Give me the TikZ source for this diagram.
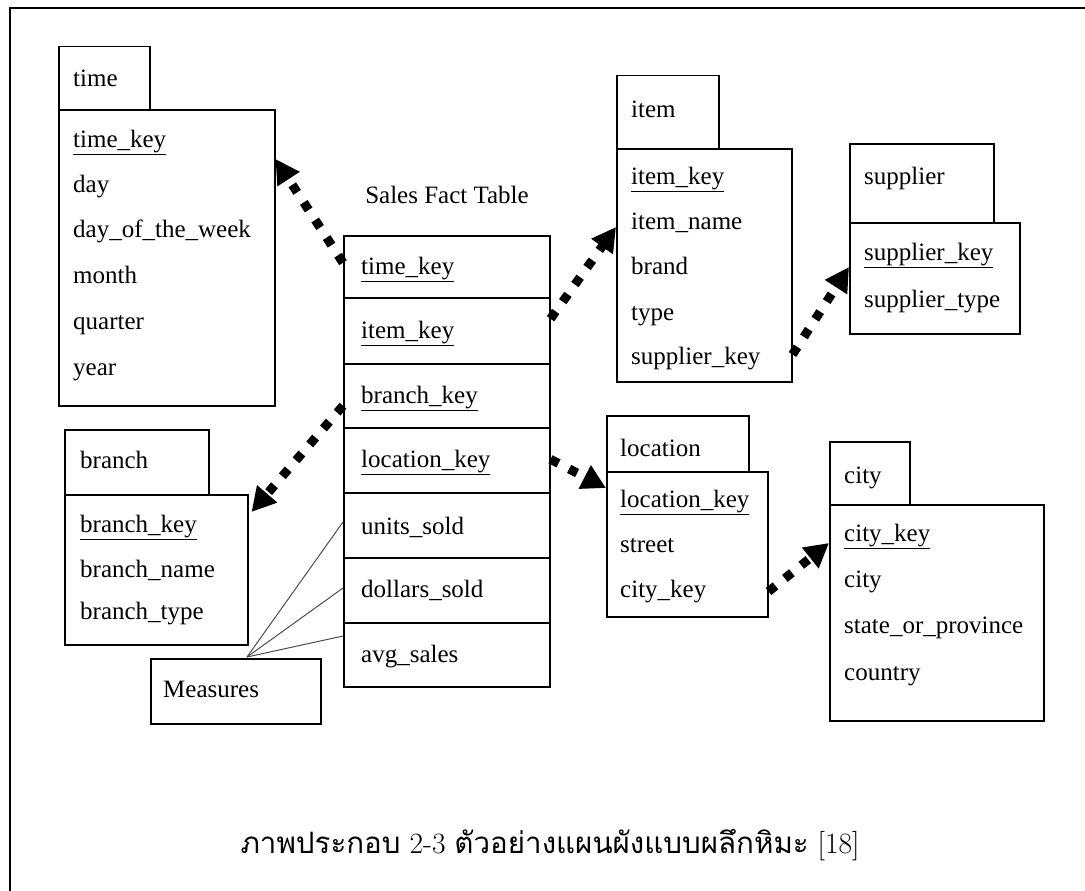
\documentclass[tikz,border=0pt]{standalone}
\usepackage{fontspec}
\newfontfamily\tfont{Liberation Serif}
\newfontfamily\thaifont[Script=Thai]{Loma}
\usetikzlibrary{arrows.meta,calc}

\tikzset{
  box/.style={draw, line width=1.5pt, inner sep=0pt, anchor=north west},
  lbl/.style={font=\tfont\fontsize{25}{25}\selectfont, anchor=west, inner sep=0pt,
              text height=17pt, text depth=6pt},
  fk/.style={line width=9pt, dash pattern=on 9pt off 12pt,
             -{Triangle[length=24pt,width=25pt]}},
  meas/.style={line width=1pt, draw=black!70},
}

\begin{document}
\begin{tikzpicture}[x=1pt,y=-1pt]
\useasboundingbox (0,0) rectangle (1085,891);
% frame
\draw[line width=2pt] (10,891) -- (10,8) -- (1085,8);

% ---- time dimension
\node[box, minimum width=91pt, minimum height=63pt] (timeh) at (58,46) {};
\node[box, minimum width=216pt, minimum height=296pt] (timeb) at (58,109) {};
\node[lbl] (t0) at (73,81) {time};
\node[lbl] (t1) at (73,142) {\underline{time\_key}};
\node[lbl] (t2) at (73,187) {day};
\node[lbl] (t3) at (73,232) {day\_of\_the\_week};
\node[lbl] (t4) at (73,278) {month};
\node[lbl] (t5) at (73,324) {quarter};
\node[lbl] (t6) at (73,370) {year};

% ---- fact table
\node[lbl, anchor=center] (facttitle) at (447,198) {Sales Fact Table};
\node[box, minimum width=206pt, minimum height=62pt] (ftime) at (343,235) {};
\node[box, minimum width=206pt, minimum height=66pt] (fitem) at (343,297) {};
\node[box, minimum width=206pt, minimum height=64pt] (fbranch) at (343,363) {};
\node[box, minimum width=206pt, minimum height=65pt] (floc) at (343,427) {};
\node[box, minimum width=206pt, minimum height=65pt] (funits) at (343,492) {};
\node[box, minimum width=206pt, minimum height=65pt] (fdollars) at (343,557) {};
\node[box, minimum width=206pt, minimum height=64pt] (favg) at (343,622) {};
\node[lbl] (ft1) at ($(ftime.west)+(18,2)$) {\underline{time\_key}};
\node[lbl] (ft2) at ($(fitem.west)+(18,2)$) {\underline{item\_key}};
\node[lbl] (ft3) at ($(fbranch.west)+(18,2)$) {\underline{branch\_key}};
\node[lbl] (ft4) at ($(floc.west)+(18,2)$) {\underline{location\_key}};
\node[lbl] (ft5) at ($(funits.west)+(18,4)$) {units\_sold};
\node[lbl] (ft6) at ($(fdollars.west)+(18,2)$) {dollars\_sold};
\node[lbl] (ft7) at ($(favg.west)+(18,2)$) {avg\_sales};

% ---- item dimension
\node[box, minimum width=102pt, minimum height=73pt] (itemh) at (616,75) {};
\node[box, minimum width=175pt, minimum height=233pt] (itemb) at (616,148) {};
\node[lbl] (i0) at (631,112) {item};
\node[lbl] (i1) at (631,179) {\underline{item\_key}};
\node[lbl] (i2) at (631,224) {item\_name};
\node[lbl] (i3) at (631,269) {brand};
\node[lbl] (i4) at (631,315) {type};
\node[lbl] (i5) at (631,359) {supplier\_key};

% ---- supplier dimension
\node[box, minimum width=144pt, minimum height=79pt] (suph) at (849,143) {};
\node[box, minimum width=170pt, minimum height=111pt] (supb) at (849,222) {};
\node[lbl] (s0) at (864,179) {supplier};
\node[lbl] (s1) at (864,255) {\underline{supplier\_key}};
\node[lbl] (s2) at (864,302) {supplier\_type};

% ---- branch dimension
\node[box, minimum width=144pt, minimum height=65pt] (branchh) at (64,429) {};
\node[box, minimum width=183pt, minimum height=150pt] (branchb) at (64,494) {};
\node[lbl] (b0) at (80,463) {branch};
\node[lbl] (b1) at (80,527) {\underline{branch\_key}};
\node[lbl] (b2) at (80,572) {branch\_name};
\node[lbl] (b3) at (80,614) {branch\_type};

% ---- measures note
\node[box, minimum width=170pt, minimum height=65pt] (meas) at (150,658) {};
\node[lbl] (m0) at (163,692) {Measures};

% ---- location dimension
\node[box, minimum width=142pt, minimum height=56pt] (loch) at (606,415) {};
\node[box, minimum width=161pt, minimum height=145pt] (locb) at (606,471) {};
\node[lbl] (l0) at (620,451) {location};
\node[lbl] (l1) at (620,502) {\underline{location\_key}};
\node[lbl] (l2) at (620,547) {street};
\node[lbl] (l3) at (620,592) {city\_key};

% ---- city dimension
\node[box, minimum width=80pt, minimum height=63pt] (cityh) at (829,441) {};
\node[box, minimum width=214pt, minimum height=216pt] (cityb) at (829,504) {};
\node[lbl] (c0) at (844,478) {city};
\node[lbl] (c1) at (844,536) {\underline{city\_key}};
\node[lbl] (c2) at (844,582) {city};
\node[lbl] (c3) at (844,628) {state\_or\_province};
\node[lbl] (c4) at (844,675) {country};

% ---- foreign key links
\draw[fk] ($(ftime.west)+(0,-4)$) -- ($(timeb.north east)+(0,50)$);
\draw[fk] ($(fitem.east)+(0,-12)$) -- ($(itemb.north west)+(0,79)$);
\draw[fk] ($(fbranch.west)+(0,10)$) -- ($(branchb.north east)+(3,18)$);
\draw[fk] ($(floc.east)+(0,-1)$) -- ($(locb.north west)+(0,17)$);
\draw[fk] ($(itemb.south east)+(0,-28)$) -- ($(supb.north west)+(0,45)$);
\draw[fk] ($(locb.south east)+(0,-26)$) -- ($(cityb.north west)+(0,39)$);

% ---- measures pointers
\coordinate (mp) at ($(meas.north west)+(97,-1)$);
\draw[meas] (mp) -- ($(funits.north west)+(0,30)$);
\draw[meas] (mp) -- ($(fdollars.north west)+(0,31)$);
\draw[meas] (mp) -- ($(favg.north west)+(0,14)$);

% ---- caption
\node[inner sep=0pt, font=\fontsize{29.5}{29.5}\selectfont] (caption) at (550,845)
  {{\thaifont ภาพประกอบ} 2-3 {\thaifont ตัวอย่างแผนผังแบบผลึกหิมะ} [18]};
\end{tikzpicture}
\end{document}
